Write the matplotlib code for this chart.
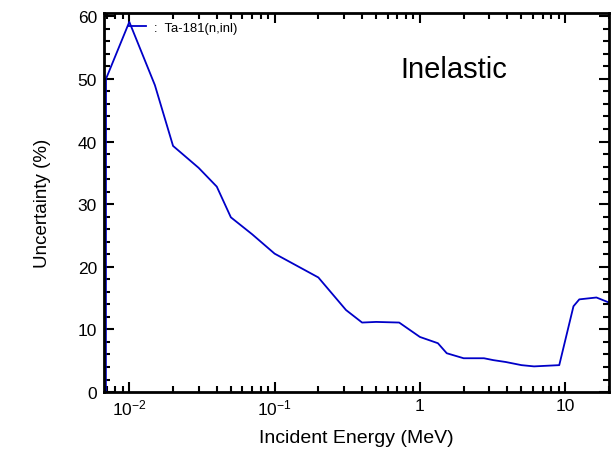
import numpy as np
import matplotlib
matplotlib.use("Agg")
import matplotlib.pyplot as plt
from matplotlib.ticker import LogLocator, FixedLocator, MultipleLocator, NullFormatter

plt.rcParams["font.family"] = ["Liberation Sans", "DejaVu Sans"]
plt.rcParams["mathtext.fontset"] = "custom"
plt.rcParams["mathtext.rm"] = "Liberation Sans"
plt.rcParams["mathtext.it"] = "Liberation Sans:italic"

# incident energy (MeV) and uncertainty (%)
energy = [0.0069, 0.00691, 0.010, 0.015, 0.020, 0.030, 0.040, 0.050, 0.070, 0.10,
          0.20, 0.31, 0.40, 0.50, 0.72, 1.0, 1.33, 1.53, 2.0, 2.76,
          3.2, 3.9, 5.0, 6.1, 9.1, 11.4, 12.5, 16.4, 20.0]
uncert = [0.0, 50.0, 59.1, 49.0, 39.3, 35.8, 32.8, 27.9, 25.2, 22.1,
          18.3, 13.1, 11.1, 11.2, 11.1, 8.8, 7.8, 6.2, 5.4, 5.4,
          5.1, 4.8, 4.3, 4.1, 4.3, 13.7, 14.8, 15.1, 14.3]

fig = plt.figure(figsize=(6.12, 4.56), dpi=100)
ax = fig.add_axes([0.170, 0.138, 0.825, 0.831])

ax.plot(energy, uncert, color="#0000c8", lw=1.3, label=":  Ta-181(n,inl)")

ax.set_xscale("log")
ax.set_xlim(0.0067, 20)
ax.set_ylim(0, 60.5)

ax.xaxis.set_major_locator(FixedLocator([0.01, 0.1, 1, 10]))
ax.set_xticklabels(["10$^{-2}$", "10$^{-1}$", "1", "10"])
ax.xaxis.set_minor_locator(LogLocator(base=10, subs=np.arange(2, 10)))
ax.xaxis.set_minor_formatter(NullFormatter())
ax.yaxis.set_major_locator(MultipleLocator(10))
ax.yaxis.set_minor_locator(MultipleLocator(2))

ax.tick_params(which="both", direction="in", top=True, right=True, width=1.5, labelsize=12.5)
ax.tick_params(which="major", length=7)
ax.tick_params(which="minor", length=4)
ax.tick_params(axis="x", which="major", pad=4)
ax.tick_params(axis="y", which="major", pad=5)
for s in ax.spines.values():
    s.set_linewidth(2)

ax.set_xlabel("Incident Energy (MeV)", fontsize=14, labelpad=8)
ax.set_ylabel("Uncertainty (%)", fontsize=13.5, labelpad=19)

ax.text(0.693, 0.852, "Inelastic", transform=ax.transAxes, fontsize=21, ha="center", va="center")

ax.legend(loc="upper left", bbox_to_anchor=(0.0475, 0.977), frameon=False, fontsize=9.4,
          handlelength=1.4, handletextpad=0.6, borderpad=0, borderaxespad=0)

fig.savefig("out.png", dpi=100)
